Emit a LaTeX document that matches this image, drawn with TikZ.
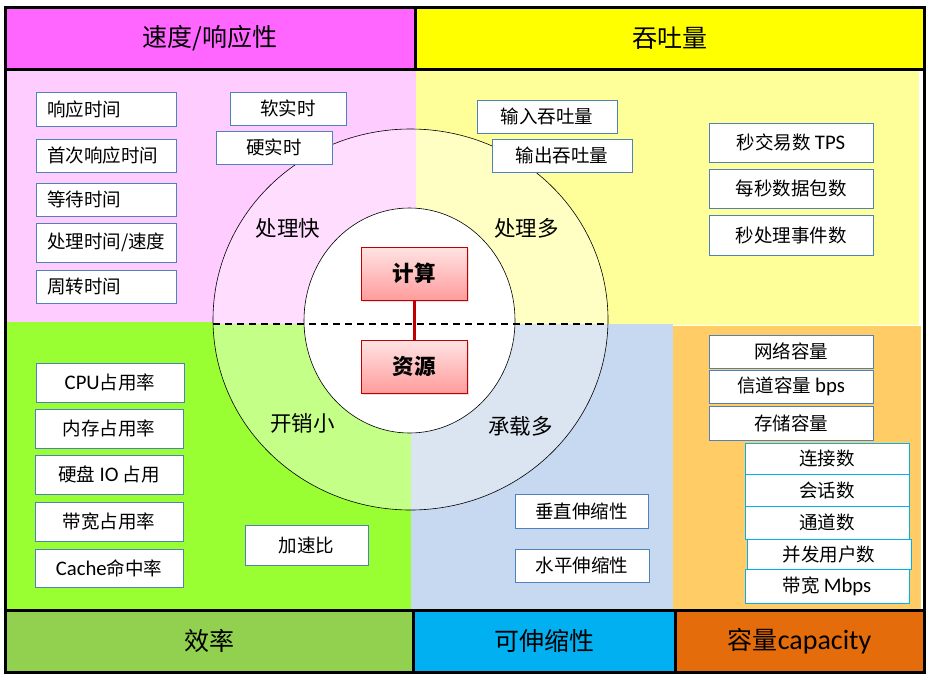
\documentclass[tikz,border=0pt]{standalone}
\usepackage{fontspec}
\setmainfont{Noto Sans CJK SC}
\newfontfamily\latfont[Scale=1.12]{Carlito}
\newcommand{\en}[1]{{\latfont #1}}
\usetikzlibrary{shadows}
\definecolor{hmag}{HTML}{FF66FF}
\definecolor{hyel}{HTML}{FFFF00}
\definecolor{fgreen}{HTML}{92D050}
\definecolor{fcyan}{HTML}{00B0F0}
\definecolor{forange}{HTML}{E46C0A}
\definecolor{qpink}{HTML}{FFCCFF}
\definecolor{qyel}{HTML}{FFFF99}
\definecolor{qgreen}{HTML}{99FF33}
\definecolor{qblue}{HTML}{C6D9F1}
\definecolor{qorange}{HTML}{FFCC66}
\definecolor{rpink}{HTML}{FFDDFF}
\definecolor{ryel}{HTML}{FFFFC4}
\definecolor{rgreen}{HTML}{C4FF88}
\definecolor{rblue}{HTML}{DBE5F1}
\definecolor{boxblue}{HTML}{4F81BD}
\definecolor{corered}{HTML}{C00000}
\definecolor{coretop}{HTML}{FFE3E3}
\definecolor{corebot}{HTML}{FF9C9C}
\begin{document}
\begin{tikzpicture}[x=1pt,y=-1pt,
	cell/.style={inner sep=0pt,outer sep=0pt,font=\fontsize{25}{29}\selectfont},
	item/.style={draw=boxblue,line width=1pt,fill=white,inner sep=0pt,outer sep=0pt,font=\fontsize{18.5}{22}\selectfont},
	leftitem/.style={item,text width=118pt,inner xsep=11pt,align=left},
	capitem/.style={item,draw=fcyan},
	core/.style={draw=corered,line width=1pt,top color=coretop,bottom color=corebot,minimum width=106pt,minimum height=53pt,font=\fontsize{21.5}{25}\selectfont\bfseries,drop shadow={opacity=0.25,shadow xshift=1.5pt,shadow yshift=-1.5pt}},
	ring/.style={font=\fontsize{21.5}{25}\selectfont}]
	\useasboundingbox (0,0) rectangle (933,680);
	\fill[white] (0,0) rectangle (933,680);
	\fill[qpink] (5,69) rectangle (416,322);
	\fill[qyel] (416,69) rectangle (919,325);
	\fill[qgreen] (5,322) rectangle (411,610);
	\fill[qblue] (411,324) rectangle (673,610);
	\fill[qorange] (673,326) rectangle (921,610);
	\begin{scope}
		\clip (410.5,319.5) ellipse [x radius=197.5,y radius=190.5];
		\fill[rpink] (200,100) rectangle (416,324);
		\fill[ryel] (416,100) rectangle (620,324);
		\fill[rgreen] (200,324) rectangle (411,530);
		\fill[rblue] (411,324) rectangle (620,530);
	\end{scope}
	\fill[white] (409.5,320.5) ellipse [x radius=105.5,y radius=112.5];
	\draw[line width=0.6pt] (410.5,319.5) ellipse [x radius=197.5,y radius=190.5];
	\draw[line width=0.6pt] (409.5,320.5) ellipse [x radius=105.5,y radius=112.5];
	\draw[line width=1.5pt,dash pattern=on 7pt off 5pt] (213,324) -- (608,324);

	\node[cell,fill=hmag,minimum width=410pt,minimum height=62pt] (speed) at (210,38) {速度/响应性};
	\node[cell,fill=hyel,minimum width=509pt,minimum height=62pt] (thru) at (669.5,38) {吞吐量};
	\node[cell,fill=fgreen,minimum width=408pt,minimum height=62pt] (eff) at (209,641) {效率};
	\node[cell,fill=fcyan,minimum width=262pt,minimum height=62pt] (scal) at (544,641) {可伸缩性};
	\node[cell,fill=forange,minimum width=249pt,minimum height=62pt] (cap) at (799.5,641) {容量\en{capacity}};

	\node[core] (calc) at (414,273.5) {计算};
	\node[core] (res) at (414,366.5) {资源};
	\draw[corered,line width=3pt] (calc) -- (res);

	\node[ring] (fast) at (288,228) {处理快};
	\node[ring] (much) at (526.5,228) {处理多};
	\node[ring] (cheap) at (302.5,423) {开销小};
	\node[ring] (load) at (520.5,426) {承载多};

	\node[leftitem,minimum height=34pt] (resp) at (106,109) {响应时间};
	\node[leftitem,minimum height=33pt] (first) at (106,155.5) {首次响应时间};
	\node[leftitem,minimum height=33pt] (wait) at (106,199.5) {等待时间};
	\node[leftitem,minimum height=39pt] (proc) at (106,242.5) {处理时间/速度};
	\node[leftitem,minimum height=33pt] (turn) at (106,286.5) {周转时间};
	\node[item,minimum width=116pt,minimum height=33pt] (soft) at (288,108.5) {软实时};
	\node[item,minimum width=116pt,minimum height=33pt] (hard) at (274,147.5) {硬实时};

	\node[item,minimum width=140pt,minimum height=33pt] (input) at (547,116.5) {输入吞吐量};
	\node[item,minimum width=140pt,minimum height=33pt] (output) at (562,155.5) {输出吞吐量};
	\node[item,minimum width=164pt,minimum height=39pt] (tps) at (791,142.5) {秒交易数 \en{TPS}};
	\node[item,minimum width=164pt,minimum height=39pt] (pps) at (791,188.5) {每秒数据包数};
	\node[item,minimum width=164pt,minimum height=40pt] (eps) at (791,235) {秒处理事件数};

	\node[item,minimum width=148pt,minimum height=39pt] (cpu) at (110,382.5) {\en{CPU}占用率};
	\node[item,minimum width=148pt,minimum height=39pt] (mem) at (109,428.5) {内存占用率};
	\node[item,minimum width=148pt,minimum height=39pt] (disk) at (109,474.5) {硬盘 \en{IO} 占用};
	\node[item,minimum width=148pt,minimum height=39pt] (bw) at (109,521.5) {带宽占用率};
	\node[item,minimum width=148pt,minimum height=38pt] (cache) at (109,568) {\en{Cache}命中率};
	\node[item,minimum width=123pt,minimum height=40pt] (speedup) at (306.5,545) {加速比};

	\node[item,minimum width=133pt,minimum height=34pt] (vert) at (581.5,511) {垂直伸缩性};
	\node[item,minimum width=134pt,minimum height=33pt] (horiz) at (582,565.5) {水平伸缩性};

	\node[item,minimum width=164pt,minimum height=33pt] (net) at (791,351.5) {网络容量};
	\node[item,minimum width=164pt,minimum height=33pt] (chan) at (791,386.5) {信道容量 \en{bps}};
	\node[item,minimum width=164pt,minimum height=34pt] (store) at (791,423) {存储容量};
	\node[capitem,minimum width=164pt,minimum height=31pt] (conn) at (827,458.5) {连接数};
	\node[capitem,minimum width=164pt,minimum height=32pt] (sess) at (827,490) {会话数};
	\node[capitem,minimum width=164pt,minimum height=33pt] (pipe) at (827,522.5) {通道数};
	\node[capitem,minimum width=164pt,minimum height=30pt] (users) at (829,554) {并发用户数};
	\node[capitem,minimum width=164pt,minimum height=34pt] (mbps) at (827,586) {带宽 \en{Mbps}};

	\draw[line width=3pt] (5,7) rectangle (924,672);
	\draw[line width=3pt] (5,69) -- (924,69);
	\draw[line width=3pt] (5,610) -- (924,610);
	\draw[line width=3pt] (415,7) -- (415,69);
	\draw[line width=3pt] (413,610) -- (413,672);
	\draw[line width=3pt] (675,610) -- (675,672);
\end{tikzpicture}
\end{document}
